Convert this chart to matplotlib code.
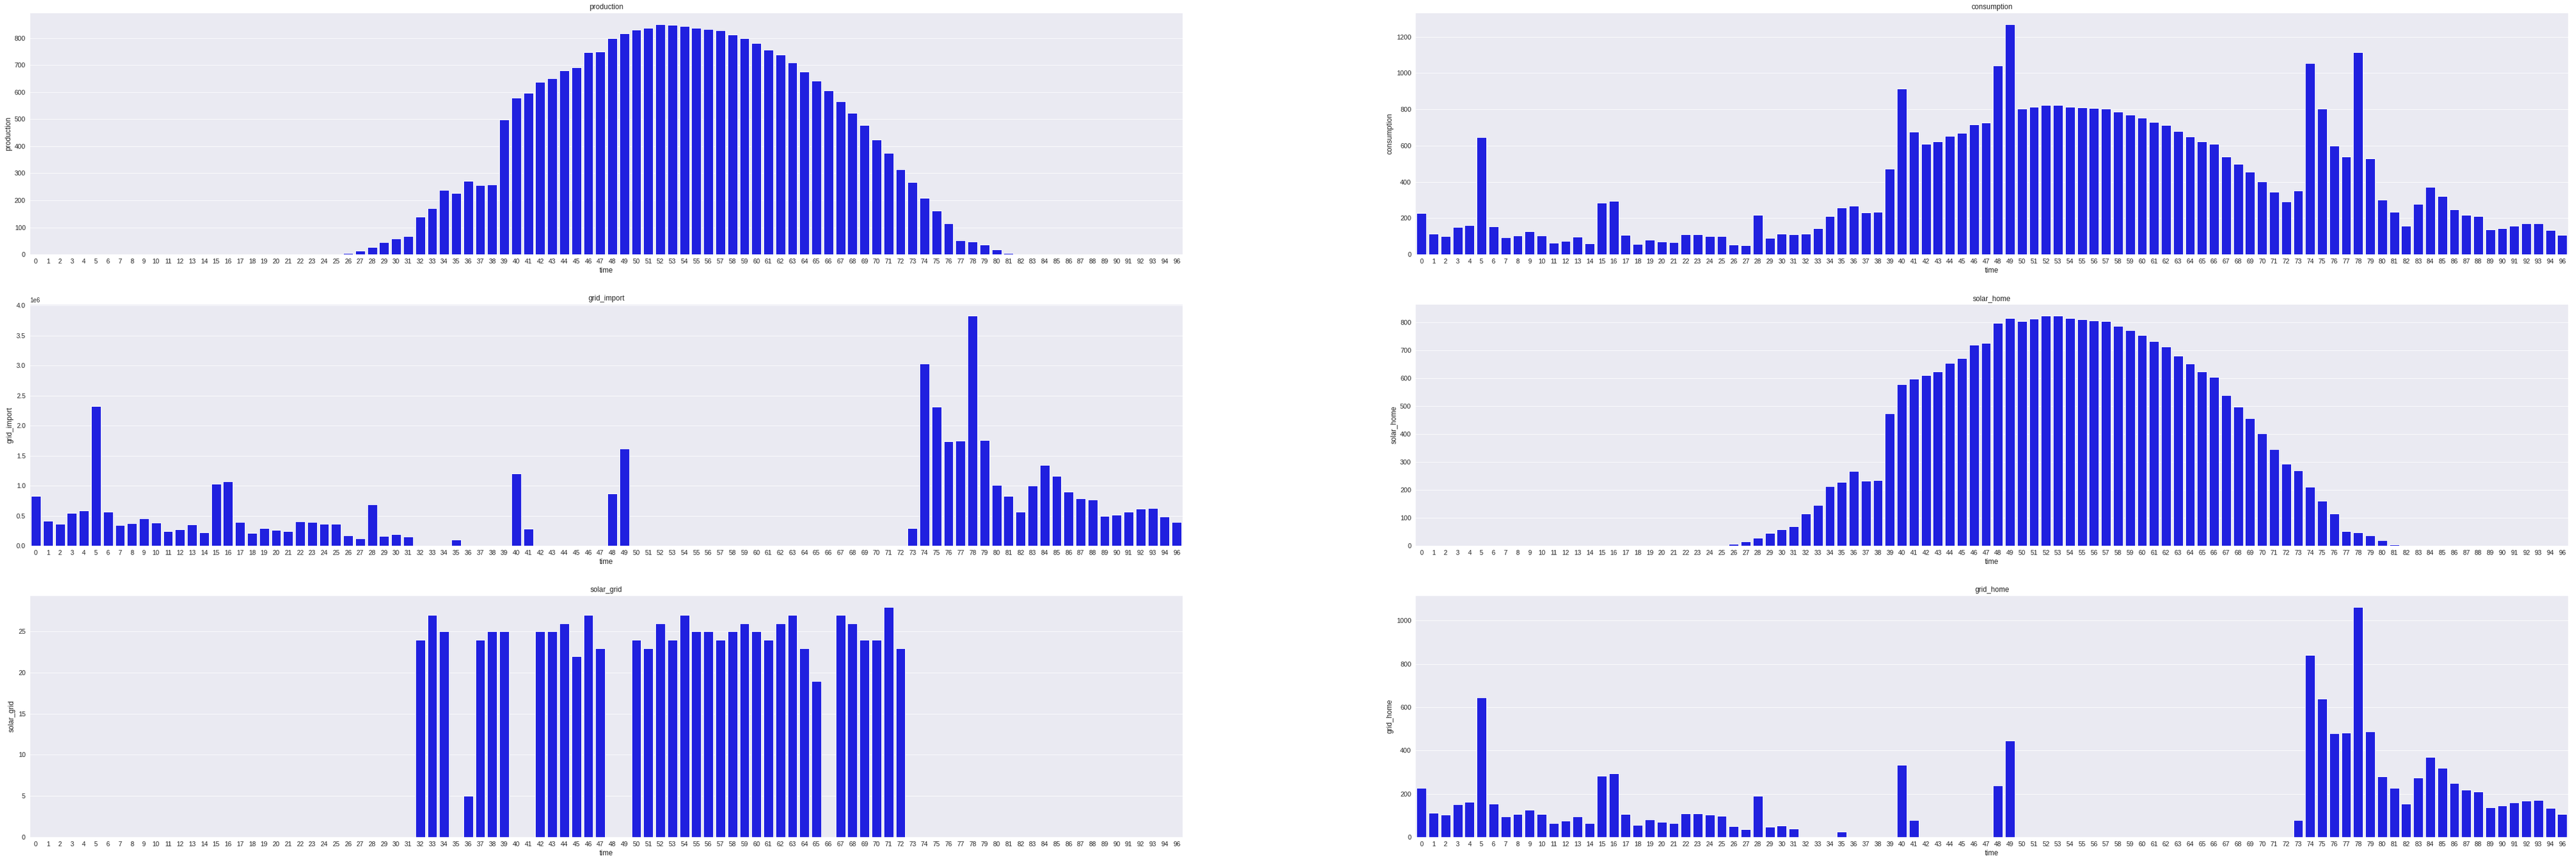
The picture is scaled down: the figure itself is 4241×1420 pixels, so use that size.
import matplotlib
matplotlib.use("Agg")
import matplotlib.pyplot as plt
import seaborn as sns

sns.set_style("darkgrid")
plt.rcParams['font.family'] = ['Liberation Sans', 'DejaVu Sans']

# time slots (slot 95 is missing in the data)
time = [str(t) for t in range(95)] + ['96']

production = [0] * 26 + [
    5, 13, 28, 45, 59, 68, 139, 171, 238, 226, 271, 256, 258, 499, 580, 597,
    638, 652, 680, 691, 747, 749, 799, 817, 830, 837, 850, 848, 843, 837, 832,
    828, 812, 799, 781, 756, 738, 709, 676, 642, 606, 566, 524, 479, 425, 374,
    315, 268, 210, 161, 114, 51, 47, 36, 18, 4] + [0] * 14

consumption = [
    228, 114, 101, 151, 161, 648, 154, 94, 104, 128, 104, 64, 74, 98, 61, 284,
    294, 108, 58, 81, 71, 68, 111, 111, 101, 101, 54, 51, 218, 91, 114, 111,
    114, 144, 211, 258, 268, 231, 234, 474, 914, 678, 611, 624, 654, 671, 718,
    728, 1041, 1268, 804, 814, 824, 824, 814, 811, 808, 804, 788, 771, 754,
    731, 714, 681, 651, 624, 608, 538, 498, 454, 401, 344, 291, 351, 1054, 804,
    598, 538, 1114, 528, 301, 234, 158, 278, 371, 321, 248, 218, 211, 138, 144,
    158, 171, 171, 134, 108]

grid_import = [
    0.83e6, 0.416e6, 0.366e6, 0.547e6, 0.587e6, 2.329e6, 0.567e6, 0.346e6,
    0.376e6, 0.456e6, 0.386e6, 0.245e6, 0.275e6, 0.356e6, 0.225e6, 1.03e6,
    1.07e6, 0.396e6, 0.215e6, 0.295e6, 0.265e6, 0.245e6, 0.406e6, 0.396e6,
    0.366e6, 0.366e6, 0.174e6, 0.124e6, 0.688e6, 0.164e6, 0.195e6, 0.154e6,
    0, 0, 0, 0.104e6, 0, 0, 0, 0, 1.201e6, 0.285e6, 0, 0, 0, 0, 0, 0,
    0.869e6, 1.614e6] + [0] * 23 + [
    0.295e6, 3.034e6, 2.309e6, 1.735e6, 1.745e6, 3.829e6, 1.755e6, 1.01e6,
    0.829e6, 0.567e6, 1.0e6, 1.342e6, 1.161e6, 0.899e6, 0.789e6, 0.768e6,
    0.497e6, 0.517e6, 0.567e6, 0.617e6, 0.628e6, 0.487e6, 0.396e6]

solar_home = [0] * 26 + [
    7, 16, 29, 46, 59, 70, 116, 146, 213, 228, 267, 233, 235, 475, 579, 597,
    612, 625, 655, 671, 720, 727, 798, 816, 805, 814, 824, 824, 816, 811, 807,
    805, 788, 772, 755, 733, 714, 681, 653, 625, 605, 540, 497, 456, 402, 345,
    293, 270, 211, 161, 116, 53, 48, 38, 20, 5] + [0] * 14

solar_grid = [0] * 32 + [
    24, 27, 25, 0, 5, 24, 25, 25, 0, 0, 25, 25, 26, 22, 27, 23, 0, 0,
    24, 23, 26, 24, 27, 25, 25, 24, 25, 26, 25, 24, 26, 27, 23, 19, 0,
    27, 26, 24, 24, 28, 23] + [0] * 23

grid_home = [
    228, 113, 102, 152, 161, 645, 155, 96, 105, 127, 105, 65, 74, 96, 63, 284,
    295, 107, 57, 82, 71, 65, 110, 110, 102, 99, 49, 35, 189, 46, 54, 40,
    0, 0, 0, 26, 0, 0, 0, 0, 334, 79, 0, 0, 0, 0, 0, 0,
    239, 446] + [0] * 23 + [
    79, 841, 640, 480, 483, 1063, 488, 281, 228, 155, 275, 371, 320, 250, 217,
    211, 138, 144, 158, 169, 172, 133, 107]

panels = [
    ('production', production), ('consumption', consumption),
    ('grid_import', grid_import), ('solar_home', solar_home),
    ('solar_grid', solar_grid), ('grid_home', grid_home),
]

fig, axes = plt.subplots(3, 2, figsize=(4241 / 72, 1420 / 72), dpi=72)
fig.subplots_adjust(left=0.0116, right=0.997, top=0.985, bottom=0.029,
                    wspace=0.202, hspace=0.206)

x = list(range(len(time)))
for ax, (name, values) in zip(axes.flat, panels):
    ax.bar(x, values, width=0.8, color='#2020df')
    ax.set_xticks(x)
    ax.set_xticklabels(time, fontsize=11)
    ax.tick_params(axis='y', labelsize=11)
    ax.set_xlim(-0.5, len(time) - 0.5)
    ax.xaxis.grid(False)
    ax.set_title(name, fontsize=12)
    ax.set_xlabel('time', fontsize=12)
    ax.set_ylabel(name, fontsize=12)

fig.savefig('out.png', dpi=72)
